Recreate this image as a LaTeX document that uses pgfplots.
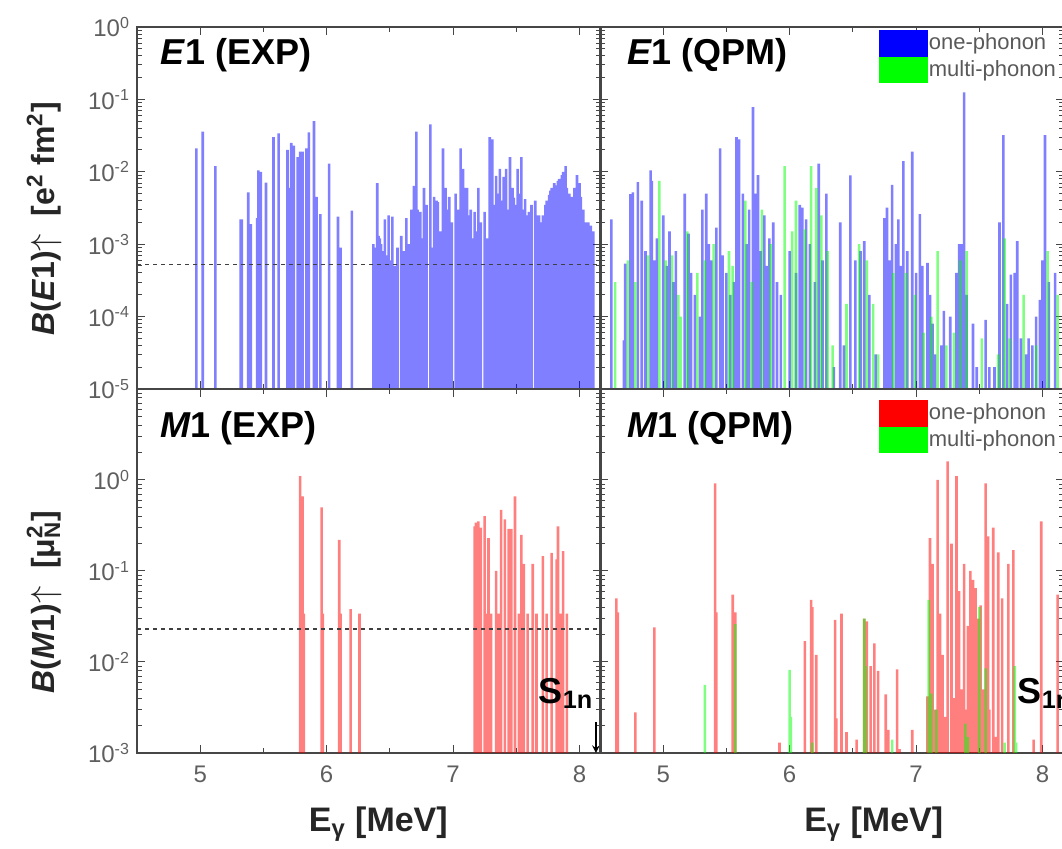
\documentclass[border=0pt]{standalone}
\usepackage{pgfplots}
\pgfplotsset{compat=1.18}
\usepackage{fontspec}
\setmainfont{Liberation Sans}
\definecolor{tickgray}{RGB}{95,95,95}
\definecolor{axgray}{RGB}{70,70,70}
\definecolor{pblue}{RGB}{0,0,255}
\definecolor{pgreen}{RGB}{0,255,0}
\definecolor{pred}{RGB}{255,0,0}
\pgfplotsset{
  mypanel/.style={
    scale only axis, width=232pt, xmin=4.5, xmax=8.17, log origin y=infty,
    axis line style={draw=axgray, line width=0.9pt},
    tick style={axgray, line width=0.5pt},
    major tick length=4pt, minor tick length=2.5pt,
    xtick={5,6,7,8}, minor x tick num=1,
    tick label style={font=\fontsize{12}{12}\selectfont, text=tickgray},
    xticklabel style={yshift=-3pt},
    ylabel style={font=\fontsize{16}{16}\selectfont, text=black!85, rotate=0, anchor=center},
    xlabel style={font=\fontsize{17}{17}\selectfont, text=black!85, anchor=center},
    legend style={draw=none, fill=none, font=\fontsize{11}{11}\selectfont, text=black!65,
      inner sep=0pt, row sep=0pt, nodes={inner sep=0.6pt}, anchor=north west},
    legend cell align=left,
  },
  mytop/.style={mypanel, height=181pt, ymin=1e-5, ymax=1,
    ytick={1e-5,1e-4,1e-3,1e-2,1e-1,1}, xticklabels={}},
  mybot/.style={mypanel, height=182pt, ymin=1e-3, ymax=10,
    ytick={1e-3,1e-2,1e-1,1,10}, xticklabels={5,6,7,8}},
  mybars/.style={ybar, bar width=1.3pt, bar shift=0pt, draw=none, fill=#1, fill opacity=0.5, forget plot},
}
\begin{document}
\begin{tikzpicture}
\useasboundingbox (0,0) rectangle (531pt,424.5pt);
\clip (0,0) rectangle (531pt,424.5pt);

% ---------------- top left: E1 EXP ----------------
\begin{semilogyaxis}[mytop, at={(68.5pt,230pt)}, anchor=south west,
  yticklabels={10\textsuperscript{-5},10\textsuperscript{-4},10\textsuperscript{-3},10\textsuperscript{-2},10\textsuperscript{-1},10\textsuperscript{0}},
  ylabel={\textbf{\textit{B}(\textit{E}1)}$\uparrow$\ \ \textbf{[e\textsuperscript{2} fm\textsuperscript{2}]}},
  ylabel style={at={(axis description cs:-0.2,0.47)}},
]
\addplot[mybars=pblue] coordinates {
(4.97,0.021) (5.02,0.036) (5.12,0.012) (5.32,0.0022) (5.33,0.0022) (5.38,0.0052)
(5.40,0.0019) (5.45,0.0023) (5.46,0.0105) (5.48,0.0100) (5.52,0.0071) (5.58,0.030)
(5.62,0.034) (5.69,0.020) (5.71,0.0060) (5.72,0.025) (5.74,0.023) (5.77,0.016)
(5.79,0.019) (5.81,0.019) (5.84,0.021) (5.86,0.035) (5.90,0.050) (5.92,0.0045)
(5.95,0.0026) (6.02,0.013) (6.09,0.0024) (6.11,0.0009) (6.20,0.0029)
(6.37,0.0010) (6.38,0.0009) (6.40,0.0070) (6.41,0.0013) (6.42,0.0012) (6.43,0.0010)
(6.44,0.0008) (6.46,0.0022) (6.47,0.0007) (6.49,0.0025) (6.50,0.0006) (6.52,0.0024)
(6.54,0.0005) (6.56,0.0009) (6.59,0.0013) (6.61,0.0008) (6.63,0.0023) (6.65,0.0010)
(6.67,0.0030) (6.69,0.0064) (6.71,0.036) (6.72,0.0030) (6.74,0.0028) (6.76,0.0012)
(6.77,0.0060) (6.79,0.0035) (6.82,0.045) (6.84,0.0009) (6.85,0.0045) (6.87,0.0040)
(6.88,0.0038) (6.90,0.0015) (6.92,0.021) (6.94,0.0060) (6.96,0.0030) (6.97,0.0045)
(6.99,0.0020) (7.02,0.0050) (7.04,0.0030) (7.06,0.021) (7.08,0.011) (7.10,0.0060)
(7.11,0.0060) (7.13,0.0025) (7.14,0.0030) (7.16,0.0012) (7.17,0.0028) (7.19,0.0015)
(7.20,0.0060) (7.22,0.0020) (7.25,0.0028) (7.27,0.0012) (7.29,0.030) (7.31,0.028)
(7.33,0.0035) (7.34,0.0088) (7.36,0.0050) (7.37,0.011) (7.39,0.0040) (7.40,0.0085)
(7.42,0.011) (7.44,0.0030) (7.45,0.016) (7.47,0.0060) (7.48,0.0044) (7.50,0.0035)
(7.51,0.011) (7.53,0.0050) (7.54,0.016) (7.56,0.0030) (7.57,0.0042) (7.59,0.0025)
(7.60,0.0028) (7.62,0.0035) (7.65,0.0040) (7.66,0.0025) (7.68,0.0025) (7.70,0.0020)
(7.71,0.0025) (7.73,0.0035) (7.74,0.0040) (7.76,0.0048) (7.77,0.0055) (7.78,0.0060)
(7.80,0.0070) (7.81,0.0065) (7.83,0.0075) (7.84,0.0080) (7.86,0.0090) (7.87,0.0100)
(7.89,0.0120) (7.90,0.0060) (7.92,0.0050) (7.94,0.0045) (7.96,0.0060) (7.98,0.0090)
(8.00,0.0070) (8.01,0.0045) (8.03,0.0030) (8.05,0.0020) (8.07,0.0020) (8.09,0.0018)
(8.11,0.0015)
};
\addplot[black!75, line width=0.6pt, dash pattern=on 2pt off 2pt, forget plot] coordinates {(4.5,5.2e-4) (8.17,5.2e-4)};
\node[anchor=west, font=\fontsize{18}{18}\selectfont] at (rel axis cs:0.035,0.923) {\textbf{\textit{E}1 (EXP)}};
\end{semilogyaxis}

% ---------------- top right: E1 QPM ----------------
\begin{semilogyaxis}[mytop, at={(300pt,230pt)}, anchor=south west, yticklabels={},
  legend style={at={(rel axis cs:0.6,0.992)}},
]
\addplot[mybars=pblue] coordinates {
(4.59,0.0022) (4.69,4.7e-5) (4.70,0.00054) (4.74,0.0049) (4.76,0.0052) (4.80,0.0072)
(4.83,0.0040) (4.86,0.0008) (4.90,0.0105) (4.91,0.0075) (4.93,0.0006) (4.95,0.0012)
(5.00,0.0025) (5.03,0.0005) (5.05,0.0015) (5.08,0.0003) (5.10,0.0008) (5.17,0.0050)
(5.20,0.0014) (5.22,0.0004) (5.25,0.0002) (5.29,0.0001) (5.31,0.0030) (5.34,0.0050)
(5.36,0.0010) (5.38,0.0006) (5.42,0.0017) (5.45,0.021) (5.47,0.0007) (5.50,0.0004)
(5.53,0.0002) (5.56,0.0003) (5.58,0.030) (5.60,0.028) (5.63,0.0050) (5.66,0.0010)
(5.68,0.0030) (5.71,0.078) (5.73,0.0050) (5.75,0.0090) (5.77,0.0008) (5.80,0.0025)
(5.82,0.0005) (5.84,0.0012) (5.87,0.0020) (5.90,0.0003) (5.93,0.0002) (6.00,0.0008)
(6.05,0.0004) (6.08,0.0035) (6.10,0.0032) (6.13,0.0022) (6.16,0.0010) (6.20,0.0003)
(6.23,0.013) (6.26,0.0006) (6.29,0.0050) (6.35,0.00002) (6.40,0.0020) (6.43,0.00004)
(6.48,0.0089) (6.52,0.0006) (6.56,0.0008) (6.59,0.0011) (6.63,0.0002) (6.68,0.00003)
(6.75,0.0023) (6.77,0.0032) (6.79,0.0006) (6.81,0.0066) (6.84,0.0010) (6.86,0.0022)
(6.88,0.0005) (6.90,0.0140) (6.93,0.0008) (6.97,0.019) (7.00,0.0004) (7.03,0.0026)
(7.05,0.0005) (7.09,0.00055) (7.11,0.0002) (7.13,0.00008) (7.15,0.00003) (7.20,0.00004)
(7.22,0.00012) (7.27,0.0001) (7.32,0.0004) (7.34,0.0010) (7.36,0.0010) (7.38,0.125)
(7.40,0.0002) (7.45,0.00008) (7.48,0.00002) (7.55,0.00009) (7.58,0.00002) (7.62,0.00002)
(7.66,0.0020) (7.69,0.032) (7.72,0.00015) (7.75,0.00038) (7.78,0.0004) (7.80,0.0011)
(7.83,0.00005) (7.87,0.00003) (7.89,0.00005) (7.92,0.00004) (7.95,0.0001) (7.98,0.00017)
(8.00,0.0006) (8.02,0.032) (8.05,0.0003) (8.10,0.0004)
};
\addplot[mybars=pgreen] coordinates {
(4.62,0.0003) (4.72,0.0006) (4.78,0.0003) (4.88,0.0007) (4.97,0.0075) (5.02,0.0006)
(5.07,0.0007) (5.12,0.0002) (5.14,0.0001) (5.19,0.0015) (5.27,0.0004) (5.33,0.0006)
(5.40,0.0010) (5.52,0.0008) (5.55,0.0005) (5.65,0.0040) (5.70,0.0003) (5.78,0.0030)
(5.85,0.0010) (5.96,0.012) (6.02,0.0015) (6.05,0.0040) (6.12,0.0016) (6.17,0.012)
(6.21,0.0060) (6.25,0.0025) (6.30,0.0008) (6.34,0.00004) (6.45,0.00015) (6.55,0.0010)
(6.61,0.0006) (6.66,0.00015) (6.70,0.00003) (6.82,0.0004) (6.92,0.0004) (6.99,0.0002)
(7.06,0.00006) (7.12,0.0001) (7.17,0.0008) (7.24,0.00004) (7.30,0.00006) (7.35,0.0006)
(7.40,0.0008) (7.52,0.00005) (7.65,0.00003) (7.70,0.0012) (7.74,0.00005) (7.85,0.0002)
(7.95,0.00004) (8.04,0.0008) (8.12,0.0002)
};
\addlegendimage{legend image code/.code={\fill[pblue] (0pt,-6.4pt) rectangle (24pt,6.4pt);}}
\addlegendentry{one-phonon}
\addlegendimage{legend image code/.code={\fill[pgreen] (0pt,-6.4pt) rectangle (24pt,6.4pt);}}
\addlegendentry{multi-phonon}
\node[anchor=west, font=\fontsize{18}{18}\selectfont] at (rel axis cs:0.043,0.923) {\textbf{\textit{E}1 (QPM)}};
\end{semilogyaxis}

% ---------------- bottom left: M1 EXP ----------------
\begin{semilogyaxis}[mybot, at={(68.5pt,48pt)}, anchor=south west,
  yticklabels={10\textsuperscript{-3},10\textsuperscript{-2},10\textsuperscript{-1},10\textsuperscript{0},{}},
  ylabel={\textbf{\textit{B}(\textit{M}1)}$\uparrow$\ \ \textbf{[μ\rlap{\textsuperscript{2}}\textsubscript{N}]}},
  ylabel style={at={(axis description cs:-0.2,0.415)}},
  xlabel={\textbf{E\textsubscript{γ} [MeV]}},
  xlabel style={at={(axis description cs:0.52,-0.195)}},
]
\addplot[mybars=pred] coordinates {
(5.79,1.10) (5.81,0.66) (5.82,0.034) (5.96,0.50) (5.97,0.034) (6.10,0.22) (6.11,0.034)
(6.19,0.038) (6.26,0.034) (7.17,0.31) (7.18,0.34) (7.20,0.35) (7.21,0.034) (7.22,0.30)
(7.25,0.40) (7.26,0.034) (7.28,0.23) (7.30,0.034) (7.34,0.10) (7.36,0.034) (7.38,0.47)
(7.41,0.37) (7.44,0.29) (7.46,0.29) (7.49,0.66) (7.52,0.034) (7.54,0.25) (7.56,0.12)
(7.59,0.034) (7.63,0.12) (7.66,0.034) (7.71,0.146) (7.74,0.034) (7.78,0.158) (7.82,0.134)
(7.83,0.31) (7.85,0.034) (7.87,0.165) (7.90,0.034)
};
\addplot[black!75, line width=0.6pt, dash pattern=on 2pt off 2pt, forget plot] coordinates {(4.5,0.023) (8.17,0.023)};
\draw[-stealth, line width=0.7pt] (axis cs:8.13,0.0022) -- (axis cs:8.13,0.001);
\node[anchor=east, font=\fontsize{18}{18}\selectfont] at (axis cs:8.165,0.0045) {\textbf{S\textsubscript{1n}}};
\node[anchor=west, font=\fontsize{18}{18}\selectfont] at (rel axis cs:0.035,0.893) {\textbf{\textit{M}1 (EXP)}};
\end{semilogyaxis}

% ---------------- bottom right: M1 QPM ----------------
\begin{semilogyaxis}[mybot, at={(300pt,48pt)}, anchor=south west, yticklabels={},
  xlabel={\textbf{E\textsubscript{γ} [MeV]}},
  xlabel style={at={(axis description cs:0.59,-0.195)}},
  legend style={at={(rel axis cs:0.6,0.97)}},
]
\addplot[mybars=pred] coordinates {
(4.63,0.050) (4.64,0.035) (4.78,0.0028) (4.93,0.024) (5.41,0.92) (5.42,0.035) (5.55,0.055)
(5.57,0.035) (5.92,0.0013) (6.12,0.017) (6.17,0.048) (6.18,0.040) (6.21,0.012) (6.36,0.029)
(6.37,0.0024) (6.41,0.034) (6.45,0.0017) (6.53,0.0014) (6.59,0.030) (6.61,0.028) (6.64,0.0090)
(6.67,0.016) (6.70,0.0080) (6.76,0.0044) (6.78,0.0018) (6.85,0.0083) (6.87,0.0011) (6.97,0.0018)
(7.09,0.0042) (7.11,0.23) (7.13,0.12) (7.15,0.0030) (7.17,1.0) (7.19,0.034) (7.21,0.012)
(7.23,0.0025) (7.25,1.6) (7.28,0.20) (7.30,0.0040) (7.32,1.1) (7.34,0.06) (7.36,0.0050)
(7.38,0.12) (7.40,0.0030) (7.41,0.025) (7.43,0.10) (7.45,0.08) (7.46,0.0020) (7.47,0.065)
(7.49,0.030) (7.51,0.042) (7.53,0.005) (7.55,0.92) (7.57,0.24) (7.58,0.0030) (7.61,0.30)
(7.63,0.0015) (7.65,0.16) (7.68,0.05) (7.73,0.12) (7.77,0.17) (7.93,0.0014) (7.99,0.35)
(8.12,0.055)
};
\addplot[mybars=pgreen] coordinates {
(5.33,0.0056) (5.57,0.026) (6.00,0.0082) (6.01,0.0025) (6.18,0.0013) (6.59,0.030)
(6.60,0.0090) (6.81,0.0014) (7.10,0.048) (7.12,0.0045) (7.16,0.0030) (7.39,0.0021)
(7.41,0.0015) (7.50,0.040) (7.55,0.0085) (7.70,0.0013) (7.78,0.0090) (7.79,0.0013)
};
\addlegendimage{legend image code/.code={\fill[pred] (0pt,-6.4pt) rectangle (24pt,6.4pt);}}
\addlegendentry{one-phonon}
\addlegendimage{legend image code/.code={\fill[pgreen] (0pt,-6.4pt) rectangle (24pt,6.4pt);}}
\addlegendentry{multi-phonon}
\node[anchor=west, font=\fontsize{18}{18}\selectfont] at (axis cs:7.75,0.0045) {\textbf{S\textsubscript{1n}}};
\node[anchor=west, font=\fontsize{18}{18}\selectfont] at (rel axis cs:0.043,0.893) {\textbf{\textit{M}1 (QPM)}};
\end{semilogyaxis}
\end{tikzpicture}
\end{document}
